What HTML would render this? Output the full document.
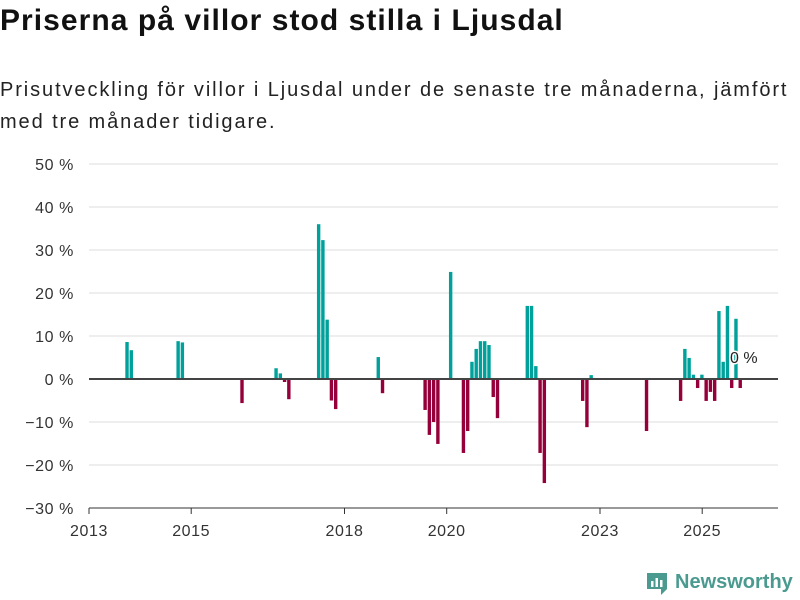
<!DOCTYPE html>
<html><head><meta charset="utf-8"><style>
body{margin:0;background:#fff;font-family:"Liberation Sans","DejaVu Sans",sans-serif;}
#wrap{position:relative;width:800px;height:600px;overflow:hidden;}
h1{position:absolute;left:0;top:4px;margin:0;font-size:30px;font-weight:bold;color:#111;letter-spacing:1.05px;white-space:nowrap}
p{position:absolute;left:0;top:74px;margin:0;font-size:20px;line-height:32px;color:#222;width:820px;letter-spacing:1.9px;white-space:nowrap}
</style></head><body><div id="wrap">
<h1>Priserna på villor stod stilla i Ljusdal</h1>
<p>Prisutveckling för villor i Ljusdal under de senaste tre månaderna, jämfört<br>med tre månader tidigare.</p>
<svg id="chart" width="800" height="600" style="position:absolute;left:0;top:0"></svg>
<div style="position:absolute;left:645px;top:569px;display:flex;align-items:center;gap:6px">
<svg width="24" height="26"><path d="M2 4 h20 v16 l-6 6 v-6 h-14z" fill="#4a9a90"/><rect x="6" y="12" width="2.5" height="6" fill="#fff"/><rect x="10.5" y="9" width="2.5" height="9" fill="#fff"/><rect x="15" y="11" width="2.5" height="7" fill="#fff"/></svg>
<span style="font-size:20px;font-weight:bold;color:#4a9a90">Newsworthy</span></div>
</div>
<script>
const months=[9,10,21,22,36,44,45,46,47,54,55,56,57,58,68,69,79,80,81,82,85,88,89,90,91,92,93,94,95,96,103,104,105,106,107,116,117,118,131,139,140,141,142,143,144,145,146,147,148,149,150,151,152,153];
const values=[8.6,6.7,8.8,8.5,-5.6,2.5,1.3,-0.7,-4.7,36,32.3,13.8,-5,-7,5.1,-3.3,-7.2,-13,-10,-15.1,24.9,-17.2,-12.1,4,7,8.8,8.8,7.9,-4.2,-9.1,17,17,3,-17.2,-24.2,-5.1,-11.2,0.9,-12.1,-5.1,7,4.9,1,-2.1,1,-5.1,-3,-5.1,15.8,4,17,-2.1,14,-2.1];
const yTicks=[-30,-20,-10,0,10,20,30,40,50];
const xTickYears=[2013,2015,2018,2020,2023,2025];
const NS="http://www.w3.org/2000/svg";
const svg=document.getElementById('chart');
const y=v=>379-v*4.3;
const x=m=>89+m*51.1/12;
function mk(t,a){const e=document.createElementNS(NS,t);for(const k in a)e.setAttribute(k,a[k]);svg.appendChild(e);return e;}
yTicks.forEach(v=>{
  if(v!==0&&v!==-30){const g=mk('line',{x1:89,x2:778,y1:y(v),y2:y(v),stroke:'#ddd','stroke-width':1});
  
  }
  const t=mk('text',{x:74,y:y(v)+6,'text-anchor':'end','font-size':16,fill:'#333','letter-spacing':0.6,'font-family':'Liberation Sans, DejaVu Sans, sans-serif'});
  t.textContent=(v<0?'−'+(-v):v)+' %';
  
  
});
const ax=mk('line',{x1:89,x2:778,y1:508,y2:508,stroke:'#333','stroke-width':1});


xTickYears.forEach(yr=>{
  const xx=x((yr-2013)*12);
  const tk=mk('line',{x1:xx,x2:xx,y1:508,y2:514,stroke:'#333'});
  
  
  const t=mk('text',{x:xx,y:536,'text-anchor':'middle','font-size':16,fill:'#333','letter-spacing':0.6,'font-family':'Liberation Sans, DejaVu Sans, sans-serif'});
  t.textContent=yr;
  
  
});
months.forEach((m,i)=>{
  const v=values[i];
  const r=mk('rect',{x:x(m)-2,width:3.4,y:Math.min(y(v),y(0)),height:Math.abs(y(v)-y(0)),fill:v>=0?'#00a19a':'#95003a'});
  
  
});
const zl=mk('line',{x1:89,x2:778,y1:379,y2:379,stroke:'#444','stroke-width':2});


const lb=mk('text',{x:730,y:363,'font-size':16,fill:'#222',stroke:'#fff','stroke-width':3,'paint-order':'stroke','font-family':'Liberation Sans, DejaVu Sans, sans-serif'});
lb.textContent='0 %';


</script></body></html>
